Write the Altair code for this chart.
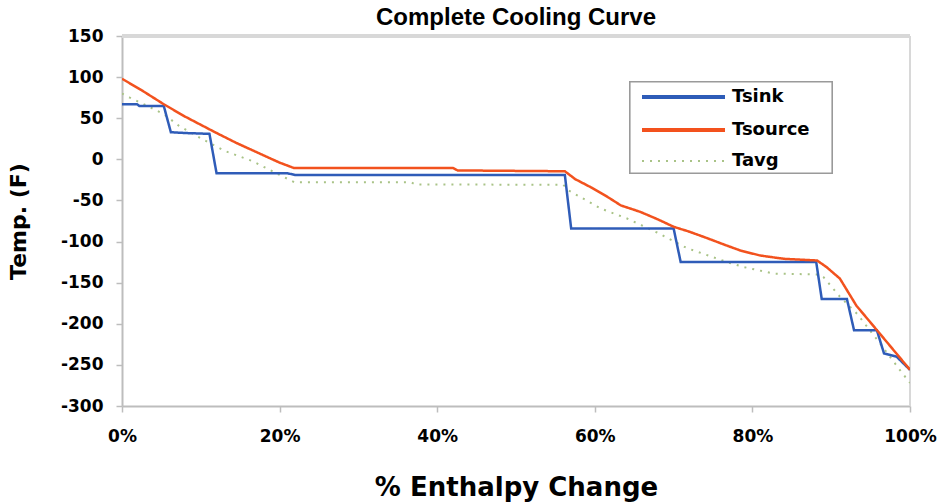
import altair as alt
import pandas as pd

# Series names and colours, in legend order
series_names = ["Tsink", "Tsource", "Tavg"]
series_colors = ["#2F5CB8", "#F2521E", "#A9C387"]
series_dashes = [[1, 0], [1, 0], [2, 6]]
series_widths = [2.5, 2.5, 2]

# Cold stream (sink) temperature, stepwise
sink_pct = [0, 1.9, 2.2, 5.3, 6.2, 8, 11.1, 12, 21, 22, 56.2, 57, 70, 70.9,
            88.1, 88.8, 92, 92.9, 95.8, 96.7, 98.3, 100]
sink_temp = [67, 67, 65, 65, 33, 32, 31, -17, -17, -19, -19, -84, -84, -125,
             -125, -170, -170, -208, -208, -236, -240, -256]

# Hot stream (source) temperature
source_pct = [0, 2.5, 5.3, 8, 11.8, 14.5, 17.7, 20, 21.8, 42, 42.6, 56.2,
              57.5, 59.5, 61.5, 63.3, 65.8, 68, 70, 72, 74.3, 76.5, 78.5,
              81, 84, 88.2, 89.4, 91.1, 93.2, 96, 100]
source_temp = [98, 84, 67, 52, 33, 20, 6, -4, -10.5, -10.5, -13.5, -14.5,
               -24, -34, -45, -56, -64, -73, -82, -88, -96, -104, -111,
               -117, -121, -123, -131, -145, -178, -210, -256]

# Mean temperature
avg_pct = [0, 1, 3, 5.3, 7.2, 10.1, 13.1, 16.5, 19.4, 21.9, 36.7, 37.2, 56,
           56.7, 60.8, 64.1, 67.9, 71.7, 76.8, 78.9, 82.7, 88.2, 89, 91.1,
           93.3, 96.2, 98.7, 100]
avg_temp = [80, 75, 66, 55, 41, 25, 10, -2, -16, -28, -28, -30.5, -31,
            -38, -60, -72, -89, -108, -125, -131, -139, -140, -143, -167,
            -188, -224, -256, -272]

x_ticks = [0, 20, 40, 60, 80, 100]
y_ticks = [150, 100, 50, 0, -50, -100, -150, -200, -250, -300]

df = pd.concat([
    pd.DataFrame({"series": "Tsink", "pct": sink_pct, "temp": sink_temp}),
    pd.DataFrame({"series": "Tsource", "pct": source_pct, "temp": source_temp}),
    pd.DataFrame({"series": "Tavg", "pct": avg_pct, "temp": avg_temp}),
], ignore_index=True)
df["order"] = range(len(df))

FONT = "DejaVu Sans"
W, H = 788, 370

x_enc = alt.X(
    "pct:Q", title="% Enthalpy Change",
    scale=alt.Scale(domain=[0, 100], nice=False),
    axis=alt.Axis(values=x_ticks, labelExpr="datum.value + '%'",
                  labelFlush=False, labelPadding=16,
                  titlePadding=30, titleFontSize=26),
)
y_enc = alt.Y(
    "temp:Q", title="Temp. (F)",
    scale=alt.Scale(domain=[-300, 150], nice=False),
    axis=alt.Axis(values=y_ticks, labelExpr="datum.value + ''",
                  labelPadding=13, titlePadding=30, titleFontSize=22),
)
color_enc = alt.Color("series:N",
                      scale=alt.Scale(domain=series_names, range=series_colors),
                      legend=None)
dash_enc = alt.StrokeDash("series:N",
                          scale=alt.Scale(domain=series_names, range=series_dashes),
                          legend=None)


def series_layer(name, width):
    return alt.Chart(df).transform_filter(
        alt.datum.series == name
    ).mark_line(strokeWidth=width, clip=True).encode(
        x=x_enc, y=y_enc, color=color_enc, strokeDash=dash_enc,
        order="order:Q",
    )


# Plot-area frame on the top and right sides
frame_top = alt.Chart(df).mark_rule(color="#d8d8d8", strokeWidth=3).encode(
    x=alt.value(0), x2=alt.value(W), y=alt.value(0))
frame_right = alt.Chart(df).mark_rule(color="#d8d8d8", strokeWidth=2).encode(
    x=alt.value(W), y=alt.value(0), y2=alt.value(H))

# Legend box with one line sample and label per series
LX0, LX1, LY0, LY1 = 508, 710, 46, 137
legend_box = alt.Chart(df).mark_rect(
    fill="white", stroke="#9a9a9a", strokeWidth=1.2
).encode(x=alt.value(LX0), x2=alt.value(LX1), y=alt.value(LY0), y2=alt.value(LY1))

legend_layers = [legend_box]
row_y = [61, 94, 125]
for name, col, dash, sw, ry in zip(series_names, series_colors, series_dashes,
                                   series_widths, row_y):
    legend_layers.append(
        alt.Chart(df).mark_rule(color=col, strokeWidth=sw, strokeDash=dash).encode(
            x=alt.value(LX0 + 12), x2=alt.value(LX0 + 95), y=alt.value(ry))
    )
    legend_layers.append(
        alt.Chart(pd.DataFrame({"label": [name]})).mark_text(
            align="left", baseline="middle", font=FONT, fontSize=18,
            fontWeight="bold", color="black"
        ).encode(x=alt.value(LX0 + 102), y=alt.value(ry), text="label:N")
    )

chart = alt.layer(
    frame_top, frame_right,
    series_layer("Tavg", 2),
    series_layer("Tsink", 2.5),
    series_layer("Tsource", 2.5),
    *legend_layers,
).properties(
    width=W, height=H,
    title=alt.TitleParams("Complete Cooling Curve", font="Liberation Sans",
                          fontSize=24, fontWeight="bold", color="black",
                          offset=-3, anchor="middle"),
    padding={"left": 122, "top": 36, "right": 33, "bottom": 96},
    autosize=alt.AutoSizeParams(type="none"),
).configure_view(stroke=None).configure_axis(
    grid=False, domainColor="#bdbdbd", domainWidth=2,
    tickColor="#bdbdbd", tickSize=6, tickWidth=1.5,
    labelFont=FONT, labelFontSize=17, labelFontWeight="bold", labelColor="black",
    titleFont=FONT, titleFontWeight="bold", titleColor="black",
)

chart.save("out.html", embed_options={"renderer": "svg", "actions": False})
